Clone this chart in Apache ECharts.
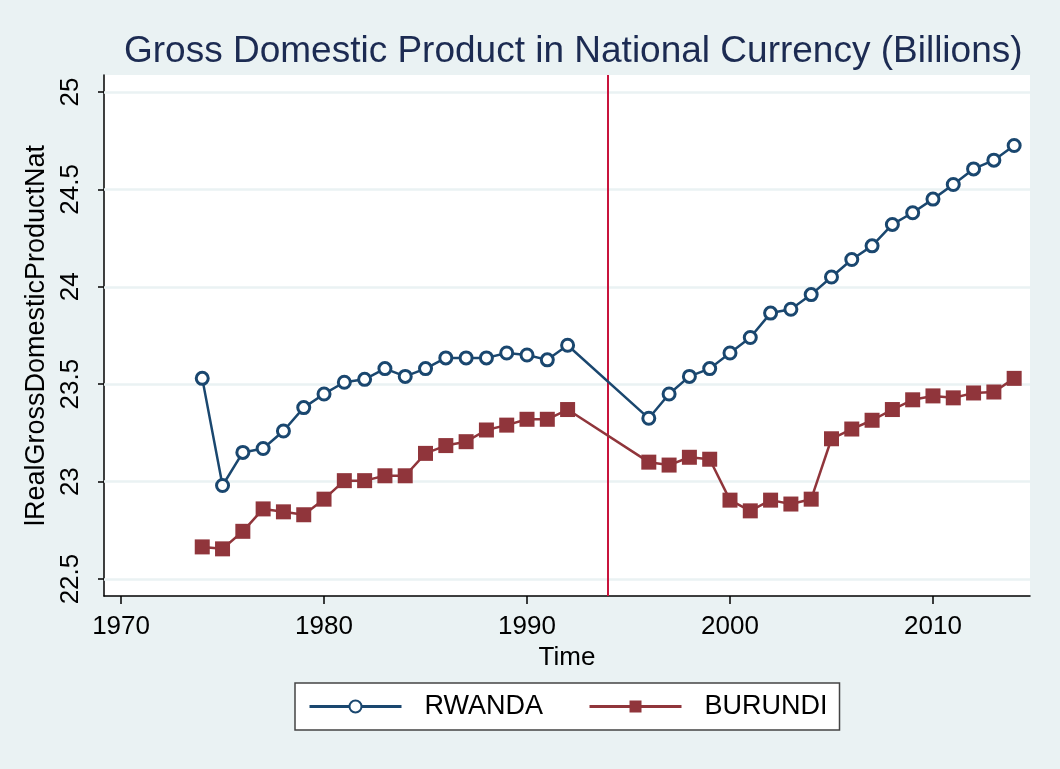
<!DOCTYPE html>
<html>
<head>
<meta charset="utf-8">
<script src="https://cdn.jsdelivr.net/npm/echarts@6/dist/echarts.min.js"></script>
<style>
  html, body { margin: 0; padding: 0; background: #eaf2f3; }
  #chart { width: 1060px; height: 769px; }
</style>
</head>
<body>
<div id="chart"></div>
<script>
// years with data (1993-1995 missing)
const years = [1974, 1975, 1976, 1977, 1978, 1979, 1980, 1981, 1982, 1983, 1984, 1985, 1986, 1987, 1988, 1989, 1990, 1991, 1992,
  1996, 1997, 1998, 1999, 2000, 2001, 2002, 2003, 2004, 2005, 2006, 2007, 2008, 2009, 2010, 2011, 2012, 2013, 2014];

const rwanda = [23.53, 22.98, 23.15, 23.17, 23.26, 23.38, 23.45, 23.51, 23.525, 23.58, 23.54, 23.58, 23.635, 23.635, 23.635, 23.66, 23.65, 23.625, 23.70,
  23.325, 23.45, 23.54, 23.58, 23.66, 23.74, 23.865, 23.885, 23.96, 24.05, 24.14, 24.21, 24.32, 24.38, 24.45, 24.525, 24.605, 24.65, 24.725];

const burundi = [22.665, 22.655, 22.745, 22.86, 22.845, 22.83, 22.91, 23.005, 23.005, 23.03, 23.03, 23.145, 23.185, 23.205, 23.265, 23.29, 23.32, 23.32, 23.37,
  23.10, 23.085, 23.125, 23.115, 22.905, 22.85, 22.905, 22.885, 22.91, 23.22, 23.27, 23.315, 23.37, 23.42, 23.44, 23.43, 23.455, 23.46, 23.53];

const xTicks = [1970, 1980, 1990, 2000, 2010];
const yTicks = [22.5, 23, 23.5, 24, 24.5, 25];
const eventYear = 1994;

const font = 'Liberation Sans, Arial, sans-serif';
const chart = echarts.init(document.getElementById('chart'));

const pairs = vals => years.map((y, i) => [y, vals[i]]);

chart.setOption({
  backgroundColor: '#eaf2f3',
  animation: false,
  title: {
    text: 'Gross Domestic Product in National Currency (Billions)',
    left: 119, top: 28,
    textStyle: { fontFamily: font, fontSize: 37, fontWeight: 'normal', color: '#1c2b52' }
  },
  grid: { left: 104, right: 30, top: 75, bottom: 173, show: true, backgroundColor: '#fff', borderWidth: 0 },
  xAxis: {
    type: 'value', min: 1969.16, max: 2014.78,
    name: 'Time', nameLocation: 'middle', nameGap: 41,
    nameTextStyle: { fontFamily: font, fontSize: 26, color: '#000' },
    axisLine: { show: true, onZero: false, lineStyle: { color: '#000', width: 1.5 } },
    axisTick: { show: true, length: 8, customValues: xTicks, lineStyle: { color: '#000', width: 1.5 } },
    axisLabel: { customValues: xTicks, formatter: v => String(v), margin: 18, fontFamily: font, fontSize: 26, color: '#000' },
    splitLine: { show: false }
  },
  yAxis: {
    type: 'value', min: 22.413, max: 25.087,
    name: 'lRealGrossDomesticProductNat', nameLocation: 'middle', nameGap: 38,
    nameTextStyle: { fontFamily: font, fontSize: 27, color: '#000' },
    axisLine: { show: true, onZero: false, lineStyle: { color: '#000', width: 1.5 } },
    axisTick: { show: true, length: 6, customValues: yTicks, lineStyle: { color: '#000', width: 1.5 } },
    axisLabel: { customValues: yTicks, rotate: 90, margin: 20, fontFamily: font, fontSize: 26, color: '#000' },
    splitLine: { show: false }
  },
  legend: {
    left: 295, top: 683,
    padding: [10, 12, 10, 13],
    itemGap: 45, itemWidth: 92, itemHeight: 15,
    backgroundColor: '#fff', borderColor: '#444', borderWidth: 1.5, borderRadius: 0,
    lineStyle: { width: 3 },
    textStyle: { fontFamily: font, fontSize: 27, color: '#000', padding: [0, 0, 0, 18] },
    data: ['RWANDA', 'BURUNDI']
  },
  series: [
    {
      // grid lines
      type: 'line', data: [], silent: true, z: 1,
      markLine: {
        silent: true, symbol: 'none', label: { show: false }, z: 1,
        lineStyle: { color: '#eaf2f3', width: 2.5, type: 'solid' },
        data: yTicks.map(v => ({ yAxis: v }))
      }
    },
    {
      name: 'RWANDA', type: 'line', z: 3,
      data: pairs(rwanda),
      symbol: 'circle', symbolSize: 12,
      color: '#1a476f',
      lineStyle: { color: '#1a476f', width: 2.5 },
      itemStyle: { color: '#fff', borderWidth: 3, borderColor: '#1a476f' },
      markLine: {
        silent: true, symbol: 'none', label: { show: false }, z: 2,
        lineStyle: { color: '#c8143c', width: 2, type: 'solid' },
        data: [{ xAxis: eventYear }]
      }
    },
    {
      name: 'BURUNDI', type: 'line', z: 2,
      data: pairs(burundi),
      symbol: 'rect', symbolSize: 15,
      color: '#90353b',
      lineStyle: { color: '#90353b', width: 2.5 },
      itemStyle: { color: '#90353b' }
    }
  ]
});
</script>
</body>
</html>
